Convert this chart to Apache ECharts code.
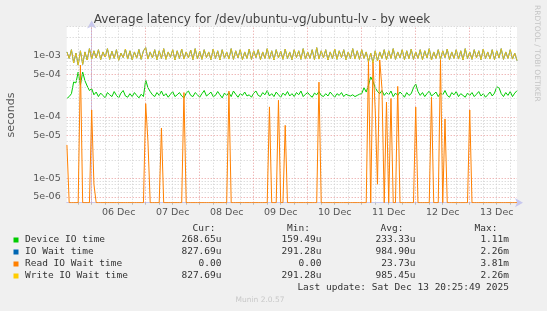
<!DOCTYPE html>
<html>
<head>
<meta charset="utf-8">
<script src="https://cdn.jsdelivr.net/npm/echarts@6/dist/echarts.min.js"></script>
<style>
html,body{margin:0;padding:0;background:#f0f0f0;}
#c{width:547px;height:311px;}
</style>
</head>
<body>
<div id="c"></div>
<script>
// Sample times: hours relative to 06 Dec 00:00, one sample per hour
const startHour = -11;
const stepHour = 1;

// Device IO time (microseconds)
const deviceIO = [
  200, 215, 240, 372, 360, 540, 330, 540, 390, 320, 270,
  290, 230, 255, 215, 245, 225, 205, 250, 230, 215, 260, 225, 205, 245, 270, 220, 210, 240, 215, 250, 225, 205, 235, 215,
  400, 300, 260, 230, 215, 250, 225, 265, 220, 240, 210, 235, 260, 215, 230, 250, 220, 205, 245, 265, 225, 215, 250, 230,
  210, 240, 270, 220, 235, 255, 215, 225, 260, 230, 205, 245, 225, 250, 215, 265, 235, 210, 240, 225, 255, 220, 230, 210,
  245, 265, 225, 215, 250, 230, 270, 220, 240, 215, 255, 230, 210, 245, 225, 260, 220, 240, 215, 250, 230, 265, 215, 235,
  250, 225, 210, 245, 230, 260, 225, 215, 240, 220, 255, 230, 210, 240, 225, 250, 215, 235, 225, 220, 230, 215, 225, 235,
  240, 300, 255, 330, 450, 380, 300, 260, 240, 270, 225, 250, 230, 265, 215, 245, 225, 255, 235, 210, 250, 225, 240, 300,
  345, 260, 225, 250, 215, 240, 265, 220, 235, 255, 215, 245, 230, 270, 225, 210, 250, 230, 260, 215, 240, 225, 210, 245,
  225, 250, 215, 235, 260, 220, 240, 210, 230, 255, 220, 245, 310, 300, 240, 215, 250, 225, 260, 215, 245, 269
];

// IO Wait time (microseconds)
const ioWait = [
  1150, 900, 1250, 760, 1100, 700, 1200, 720, 1150, 850, 1300,
  880, 1200, 920, 1250, 860, 1150, 950, 1300, 870, 1180, 900, 1250, 840, 1100, 930, 1280, 880, 1200, 860, 1150, 910, 1260, 870, 1200,
  1350, 880, 1150, 920, 1250, 860, 1200, 900, 1300, 870, 1150, 940, 1250, 850, 1200, 900, 1280, 880, 1150, 920, 1230, 860, 1300, 890,
  1180, 870, 1250, 930, 1150, 860, 1280, 900, 1200, 850, 1250, 910, 1150, 880, 1300, 870, 1200, 920, 1250, 860, 1150, 900, 1280, 870,
  1200, 930, 1250, 860, 1150, 900, 1300, 880, 1200, 850, 1250, 920, 1180, 870, 1280, 900, 1150, 860, 1250, 930, 1200, 870, 1300, 880,
  1150, 900, 1250, 860, 1350, 880, 1200, 920, 1250, 850, 1150, 900, 1280, 870, 1200, 930, 1250, 860, 1150, 900, 1300, 880, 1200, 870,
  1250, 900, 1150, 800, 1100, 760, 1200, 820, 1150, 900, 1250, 860, 1200, 900, 1300, 870, 1150, 920, 1250, 860, 1200, 890, 1280, 870,
  1150, 900, 1250, 860, 1200, 920, 1300, 850, 1150, 900, 1250, 870, 1200, 930, 1280, 860, 1150, 900, 1250, 880, 1200, 850, 1300, 900,
  1150, 870, 1250, 920, 1200, 860, 1280, 900, 1150, 880, 1250, 860, 1200, 920, 1300, 870, 1150, 900, 1250, 880, 1100, 828
];

// Read IO Wait time (microseconds)
const readWait = [
  35, 0, 0, 0, 0, 0, 700, 0, 0, 0, 0,
  130, 8, 0, 0, 0, 0, 0, 0, 0, 0, 0, 0, 0, 0, 0, 0, 0, 0, 0, 0, 0, 0, 0, 0,
  165, 40, 0, 0, 0, 0, 0, 66, 0, 0, 0, 0, 0, 0, 0, 0, 0, 250, 0, 0, 0, 0, 0, 0,
  0, 0, 0, 0, 0, 0, 0, 0, 0, 0, 0, 0, 0, 265, 0, 0, 0, 0, 0, 0, 0, 0, 0, 0,
  0, 0, 0, 0, 0, 0, 0, 146, 0, 0, 0, 187, 0, 0, 73, 0, 0, 0, 0, 0, 0, 0, 0, 0,
  0, 0, 0, 0, 0, 370, 0, 0, 0, 0, 0, 0, 0, 0, 0, 0, 0, 0, 0, 0, 0, 0, 0, 0,
  0, 0, 0, 820, 0, 780, 130, 8, 850, 290, 0, 175, 0, 200, 0, 0, 315, 0, 0, 0, 0, 0, 0, 0,
  145, 0, 0, 0, 0, 0, 0, 210, 0, 0, 0, 850, 0, 93, 0, 0, 0, 0, 0, 0, 0, 0, 0, 0,
  130, 0, 0, 0, 0, 0, 0, 0, 0, 0, 0, 0, 0, 0, 0, 0, 0, 0, 0, 0, 0, 0
];

// Write IO Wait time (microseconds)
const writeWait = [
  1150, 900, 1250, 760, 1100, 700, 1200, 720, 1150, 850, 1300,
  880, 1200, 920, 1250, 860, 1150, 950, 1300, 870, 1180, 900, 1250, 840, 1100, 930, 1280, 880, 1200, 860, 1150, 910, 1260, 870, 1200,
  1350, 880, 1150, 920, 1250, 860, 1200, 900, 1300, 870, 1150, 940, 1250, 850, 1200, 900, 1280, 880, 1150, 920, 1230, 860, 1300, 890,
  1180, 870, 1250, 930, 1150, 860, 1280, 900, 1200, 850, 1250, 910, 1150, 880, 1300, 870, 1200, 920, 1250, 860, 1150, 900, 1280, 870,
  1200, 930, 1250, 860, 1150, 900, 1300, 880, 1200, 850, 1250, 920, 1180, 870, 1280, 900, 1150, 860, 1250, 930, 1200, 870, 1300, 880,
  1150, 900, 1250, 860, 1350, 880, 1200, 920, 1250, 850, 1150, 900, 1280, 870, 1200, 930, 1250, 860, 1150, 900, 1300, 880, 1200, 870,
  1250, 900, 1150, 800, 1100, 760, 1200, 820, 1150, 900, 1250, 860, 1200, 900, 1300, 870, 1150, 920, 1250, 860, 1200, 890, 1280, 870,
  1150, 900, 1250, 860, 1200, 920, 1300, 850, 1150, 900, 1250, 870, 1200, 930, 1280, 860, 1150, 900, 1250, 880, 1200, 850, 1300, 900,
  1150, 870, 1250, 920, 1200, 860, 1280, 900, 1150, 880, 1250, 860, 1200, 920, 1300, 870, 1150, 900, 1250, 880, 1100, 828
];

// Legend table
const seriesNames = ['Device IO time', 'IO Wait time', 'Read IO Wait time', 'Write IO Wait time'];
const curVals = ['268.65u', '827.69u', '0.00', '827.69u'];
const minVals = ['159.49u', '291.28u', '0.00', '291.28u'];
const avgVals = ['233.33u', '984.90u', '23.73u', '985.45u'];
const maxVals = ['1.11m', '2.26m', '3.81m', '2.26m'];

// Axis ticks
const yLabelValues = [5e-6, 1e-5, 5e-5, 1e-4, 5e-4, 1e-3];
const dayLabels = ['06 Dec', '07 Dec', '08 Dec', '09 Dec', '10 Dec', '11 Dec', '12 Dec', '13 Dec'];

const colors = ['#00cc00', '#0066b3', '#ff8000', '#ffcc00'];
const yMin = 4e-6, yMax = 3e-3;
const xMin = -11.1, xMax = 189;

function toPairs(arr) {
  return arr.map((v, i) => [startHour + i * stepHour, Math.max(v * 1e-6, yMin)]);
}

// grid line values
const majorY = [5e-6, 1e-5, 5e-5, 1e-4, 5e-4, 1e-3];
const minorY = [];
[1e-6, 1e-5, 1e-4, 1e-3].forEach(d => {
  [2, 3, 4, 6, 7, 8, 9].forEach(m => {
    const v = +(m * d).toPrecision(3);
    if (v > yMin * 1.05 && v <= yMax) minorY.push(v);
  });
});
const majorX = [], minorX = [];
for (let h = -6; h <= 186; h += 6) {
  if (h % 24 === 0) majorX.push(h); else minorX.push(h);
}
const noonX = dayLabels.map((d, i) => 12 + 24 * i);

const minorStyle = {color: '#cfcfcf', type: [1, 2], width: 1, opacity: 1};
const majorStyle = {color: '#e89a9a', type: [1, 2], width: 1, opacity: 1};
const gridLines = [];
minorY.forEach(v => gridLines.push([{coord: [xMin, v], lineStyle: minorStyle}, {coord: [xMax, v]}]));
minorX.forEach(v => gridLines.push([{coord: [v, yMin], lineStyle: minorStyle}, {coord: [v, yMax]}]));
majorY.forEach(v => gridLines.push([{coord: [xMin, v], lineStyle: majorStyle}, {coord: [xMax, v]}]));
majorX.forEach(v => gridLines.push([{coord: [v, yMin], lineStyle: majorStyle}, {coord: [v, yMax]}]));

function fmtExp(v) {
  const parts = v.toExponential(0).split('e');
  const e = parseInt(parts[1], 10);
  return parts[0] + 'e' + (e < 0 ? '-' : '+') + String(Math.abs(e)).padStart(2, '0');
}

const chart = echarts.init(document.getElementById('c'), null, {renderer: 'canvas'});

const mono = 'DejaVu Sans Mono';
const graphics = [];
graphics.push({type: 'text', x: 262, y: 19.5, style: {text: 'Average latency for /dev/ubuntu-vg/ubuntu-lv - by week', font: '12px "DejaVu Sans"', fill: '#444', textAlign: 'center', textVerticalAlign: 'middle'}});
graphics.push({type: 'text', x: 11, y: 115, rotation: Math.PI / 2, style: {text: 'seconds', font: '11px "DejaVu Sans"', fill: '#555', textAlign: 'center', textVerticalAlign: 'middle'}});
graphics.push({type: 'text', x: 537, y: 5, rotation: -Math.PI / 2, style: {text: 'RRDTOOL / TOBI OETIKER', font: '7.5px "DejaVu Sans"', fill: '#c4c4c4', textAlign: 'left', textVerticalAlign: 'middle'}});
const hdrY = 228.5;
[['Cur:', 215.5], ['Min:', 310], ['Avg:', 403.5], ['Max:', 497.5]].forEach(h => {
  graphics.push({type: 'text', x: h[1], y: hdrY, style: {text: h[0], font: '9.5px "' + mono + '"', fill: '#333', textAlign: 'right', textVerticalAlign: 'middle'}});
});
seriesNames.forEach((n, i) => {
  const y = 240 + i * 12;
  graphics.push({type: 'rect', shape: {x: 13.5, y: y - 2.5, width: 5, height: 5}, style: {fill: colors[i]}});
  graphics.push({type: 'text', x: 25, y: y, style: {text: n, font: '9.5px "' + mono + '"', fill: '#333', textAlign: 'left', textVerticalAlign: 'middle'}});
  [[curVals, 221.5], [minVals, 321.5], [avgVals, 415.5], [maxVals, 509]].forEach(c => {
    graphics.push({type: 'text', x: c[1], y: y, style: {text: c[0][i], font: '9.5px "' + mono + '"', fill: '#333', textAlign: 'right', textVerticalAlign: 'middle'}});
  });
});
graphics.push({type: 'text', x: 509, y: 287.5, style: {text: 'Last update: Sat Dec 13 20:25:49 2025', font: '9.5px "' + mono + '"', fill: '#333', textAlign: 'right', textVerticalAlign: 'middle'}});
graphics.push({type: 'text', x: 260, y: 300, style: {text: 'Munin 2.0.57', font: '7.5px "DejaVu Sans"', fill: '#c8c8c8', textAlign: 'center', textVerticalAlign: 'middle'}});

function lineSeries(name, arr, color, z, opacity) {
  return {
    name: name, type: 'line', data: toPairs(arr), showSymbol: false, symbol: 'none',
    lineStyle: {color: color, width: 1, opacity: opacity}, itemStyle: {color: color}, z: z, silent: true, clip: true
  };
}

chart.setOption({
  animation: false,
  backgroundColor: '#f0f0f0',
  grid: {left: 66.7, right: 30, top: 26.4, bottom: 108.3, show: true, backgroundColor: '#ffffff', borderWidth: 0},
  xAxis: {
    type: 'value', min: xMin, max: xMax,
    axisLine: {show: true, lineStyle: {color: '#c8c8ee', width: 1}, symbol: ['none', 'arrow'], symbolSize: [7, 8], symbolOffset: [0, 6]},
    axisTick: {show: true, customValues: minorX.concat(majorX), length: 2, lineStyle: {color: '#bbb'}},
    axisLabel: {customValues: noonX, formatter: v => dayLabels[Math.round((v - 12) / 24)], fontFamily: 'DejaVu Sans', fontSize: 9.5, color: '#555', margin: 5},
    splitLine: {show: false}
  },
  yAxis: {
    type: 'log', logBase: 10, min: yMin, max: yMax,
    axisLine: {show: true, lineStyle: {color: '#c8c8ee', width: 1}, symbol: ['none', 'arrow'], symbolSize: [7, 8], symbolOffset: [0, 6]},
    axisTick: {show: false},
    axisLabel: {customValues: yLabelValues, formatter: v => fmtExp(v), fontFamily: 'DejaVu Sans', fontSize: 9.5, color: '#555', margin: 6},
    splitLine: {show: false}, minorSplitLine: {show: false}
  },
  graphic: graphics,
  series: [
    {type: 'line', data: [[xMin, yMax]], z: 1, silent: true, symbol: 'none', lineStyle: {opacity: 0},
     markLine: {silent: true, symbol: ['none', 'none'], label: {show: false}, data: gridLines, animation: false}},
    lineSeries('Device IO time', deviceIO, colors[0], 3, 1),
    lineSeries('IO Wait time', ioWait, colors[1], 4, 1),
    lineSeries('Read IO Wait time', readWait, colors[2], 5, 1),
    lineSeries('Write IO Wait time', writeWait, colors[3], 6, 0.85)
  ]
});
</script>
</body>
</html>
